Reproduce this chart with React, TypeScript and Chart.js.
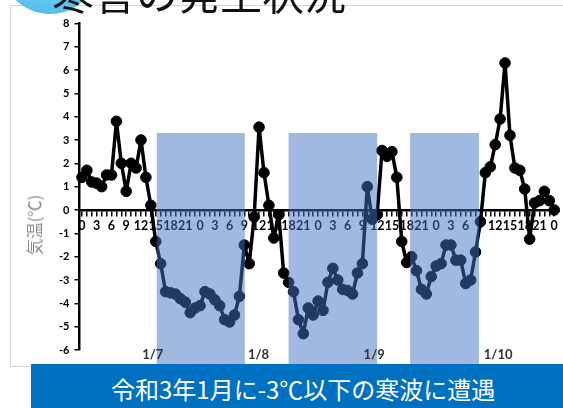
import React, { useEffect, useRef } from 'react';
import { Chart, registerables } from 'chart.js';

Chart.register(...registerables);

// hourly air temperature (°C), 1/7 0:00 to 1/11 0:00
const temperatures = [
  1.4, 1.7, 1.2, 1.15, 1.0, 1.5, 1.5, 3.8, 2.0, 0.8, 2.0, 1.8, 3.0, 1.4, 0.2, -1.35,
  -2.3, -3.5, -3.55, -3.6, -3.8, -3.95, -4.4, -4.2,
  -4.1, -3.5, -3.6, -3.85, -4.1, -4.7, -4.8, -4.5, -3.7, -1.5, -2.3, -0.3,
  3.55, 1.6, 0.2, -1.2, -0.2, -2.7, -3.1, -3.5, -4.7, -5.3, -4.2, -4.5,
  -3.9, -4.3, -3.1, -2.5, -3.0, -3.4, -3.45, -3.6, -2.7, -2.3, 1.0, -0.4,
  -0.2, 2.55, 2.3, 2.5, 1.4, -1.35, -2.25, -2.0, -2.6, -3.4, -3.6, -2.85,
  -2.4, -2.3, -1.5, -1.5, -2.15, -2.15, -3.15, -3.0, -1.8, -0.5, 1.6, 1.85,
  2.8, 3.9, 6.3, 3.2, 1.8, 1.7, 0.9, -1.25, 0.3, 0.4, 0.8, 0.4,
  0.0,
];
const hourLabels = temperatures.map((_, i) => String(i % 24));
const dateLabels = ['1/7', '1/8', '1/9', '1/10'];
const datePositions = [14.4, 35.9, 59.4, 84.6];
const coldStart = [15.2, 42, 66.7];
const coldEnd = [33.1, 60, 80.7];
const coldTop = 3.3;
const yMin = -6;
const yMax = 8;

const overlayPlugin = {
  id: 'coldOverlay',
  afterDraw(chart: any) {
    const { ctx } = chart;
    const x = chart.scales.x;
    const y = chart.scales.y;
    ctx.save();
    ctx.fillStyle = 'rgba(68,114,196,0.5)';
    coldStart.forEach((s, k) => {
      const x0 = x.getPixelForValue(s);
      const x1 = x.getPixelForValue(coldEnd[k]);
      const yTop = y.getPixelForValue(coldTop);
      ctx.fillRect(x0, yTop, x1 - x0, chart.height - yTop);
    });
    ctx.fillStyle = '#333';
    ctx.font = 'bold 13px Lato';
    ctx.textAlign = 'center';
    ctx.textBaseline = 'middle';
    dateLabels.forEach((t, k) => {
      ctx.fillText(t, x.getPixelForValue(datePositions[k]), chart.chartArea.bottom + 5);
    });
    ctx.restore();
  },
};

export default function App() {
  const ref = useRef<HTMLCanvasElement>(null);

  useEffect(() => {
    const chart = new Chart(ref.current as HTMLCanvasElement, {
      type: 'line',
      data: {
        labels: hourLabels,
        datasets: [
          {
            data: temperatures,
            borderColor: '#000',
            borderWidth: 3.5,
            borderJoinStyle: 'round',
            borderCapStyle: 'round',
            pointRadius: 5.3,
            pointBackgroundColor: '#000',
            pointBorderColor: '#000',
            pointBorderWidth: 1,
            tension: 0,
          },
        ],
      },
      options: {
        responsive: false,
        animation: false,
        devicePixelRatio: 1,
        layout: { padding: { left: 0, right: 4.8, top: 23.3, bottom: 14 } },
        plugins: { legend: { display: false }, tooltip: { enabled: false } },
        scales: {
          x: {
            type: 'category',
            position: { y: 0 } as any,
            offset: true,
            grid: { drawOnChartArea: false, drawTicks: true, tickLength: 5, color: '#000', lineWidth: 1.5 },
            border: { display: true, color: '#000', width: 2.5 },
            ticks: {
              autoSkip: false,
              maxRotation: 0,
              minRotation: 0,
              padding: 3,
              color: '#000',
              font: { family: 'Lato', size: 12.5, weight: 'bold' },
              callback: (v: any, i: number) => (i % 3 === 0 ? hourLabels[i] : ''),
            },
          },
          y: {
            min: yMin,
            max: yMax,
            afterFit: (scale: any) => {
              scale.width = 79.5;
            },
            grid: { drawOnChartArea: false, drawTicks: true, tickLength: 5, color: '#000', lineWidth: 1.5 },
            border: { display: true, color: '#000', width: 2.5 },
            ticks: {
              stepSize: 1,
              padding: 5,
              color: '#000',
              font: { family: 'Lato', size: 11, weight: 'bold' },
            },
          },
        },
      },
      plugins: [overlayPlugin],
    } as any);
    return () => chart.destroy();
  }, []);

  return (
    <div
      style={{
        position: 'absolute',
        left: 0,
        top: 0,
        width: 563,
        height: 408,
        overflow: 'hidden',
        background: '#fff',
        fontFamily: '"Noto Sans CJK JP", sans-serif',
      }}
    >
      <div
        style={{
          position: 'absolute',
          left: 10,
          top: 5,
          width: 600,
          height: 360,
          borderLeft: '1px solid #d6d6d6',
          borderTop: '1px solid #d6d6d6',
          borderBottom: '1px solid #d6d6d6',
        }}
      />
      <canvas
        ref={ref}
        width={563}
        height={364}
        style={{ position: 'absolute', left: 0, top: 0, width: 563, height: 364 }}
      />
      <div
        style={{
          position: 'absolute',
          left: 1,
          top: -84,
          width: 98,
          height: 98,
          borderRadius: '50%',
          background: 'radial-gradient(circle at 50% 30%, #bfe9fb 0%, #6cc8f0 60%, #3fb3e8 100%)',
        }}
      />
      <div
        style={{
          position: 'absolute',
          left: 52,
          top: -29,
          fontSize: 42,
          lineHeight: '42px',
          color: '#111',
          whiteSpace: 'nowrap',
        }}
      >
        寒害の発生状況
      </div>
      <div
        style={{
          position: 'absolute',
          left: 34,
          top: 225,
          transform: 'translate(-50%, -50%) rotate(-90deg)',
          fontSize: 16.5,
          fontWeight: 400,
          color: '#8a8a8a',
          whiteSpace: 'nowrap',
        }}
      >
        気温(℃)
      </div>
      <div
        style={{
          position: 'absolute',
          left: 31,
          top: 364,
          width: 532,
          height: 44,
          background: '#0070C0',
        }}
      >
        <div
          style={{
            position: 'absolute',
            left: 80,
            top: 3,
            lineHeight: '44px',
            fontSize: 24,
            color: '#fff',
            whiteSpace: 'nowrap',
          }}
        >
          令和3年1月に-3℃以下の寒波に遭遇
        </div>
      </div>
    </div>
  );
}
